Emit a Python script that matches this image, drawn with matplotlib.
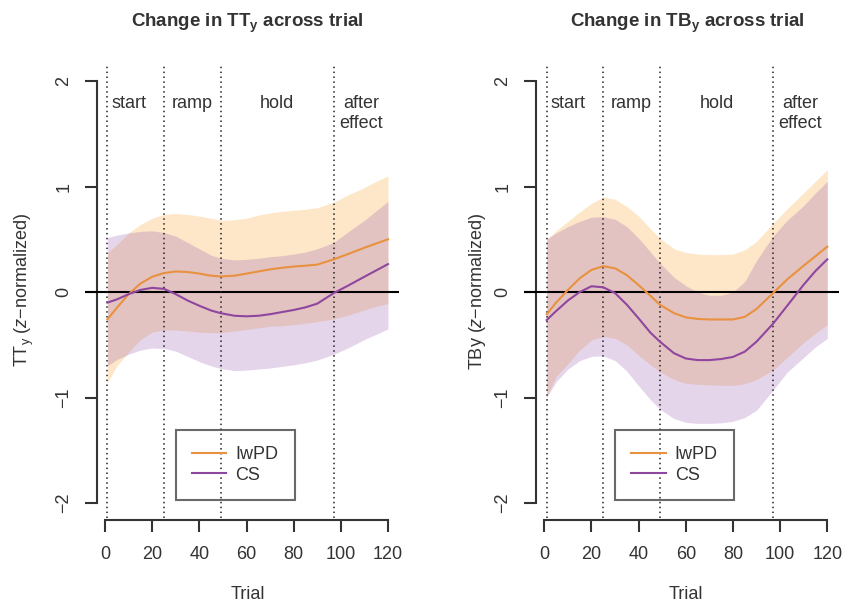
import matplotlib
matplotlib.use('Agg')
import matplotlib.pyplot as plt

plt.rcParams['font.family'] = ['Liberation Sans', 'DejaVu Sans']
plt.rcParams['mathtext.fontset'] = 'custom'
plt.rcParams['mathtext.rm'] = 'Liberation Sans'
plt.rcParams['mathtext.it'] = 'Liberation Sans:italic'
plt.rcParams['mathtext.bf'] = 'Liberation Sans:bold'

trials = [1, 5, 10, 15, 20, 25, 30, 35, 40, 45, 49, 55, 60, 65, 70, 75, 80, 85, 90, 97, 103, 110, 115, 120]

# TT_y panel
tt_lw_mean = [-0.26, -0.15, -0.02, 0.08, 0.145, 0.18, 0.195, 0.19, 0.175, 0.155, 0.148, 0.155, 0.175, 0.195,
              0.215, 0.23, 0.242, 0.25, 0.26, 0.31, 0.36, 0.42, 0.46, 0.50]
tt_lw_lo = [-0.86, -0.70, -0.57, -0.45, -0.38, -0.36, -0.36, -0.37, -0.38, -0.385, -0.385, -0.37, -0.355, -0.34,
            -0.325, -0.32, -0.31, -0.295, -0.28, -0.255, -0.22, -0.17, -0.135, -0.11]
tt_lw_hi = [0.37, 0.45, 0.56, 0.64, 0.70, 0.735, 0.745, 0.735, 0.72, 0.70, 0.68, 0.685, 0.70, 0.73,
            0.75, 0.765, 0.775, 0.785, 0.80, 0.85, 0.92, 0.99, 1.05, 1.10]
tt_cs_mean = [-0.10, -0.07, -0.02, 0.02, 0.04, 0.03, -0.02, -0.08, -0.13, -0.175, -0.20, -0.225, -0.23, -0.225,
              -0.21, -0.19, -0.17, -0.145, -0.11, -0.01, 0.06, 0.145, 0.205, 0.265]
tt_cs_lo = [-0.70, -0.64, -0.59, -0.55, -0.53, -0.535, -0.56, -0.61, -0.66, -0.70, -0.725, -0.745, -0.74, -0.73,
            -0.72, -0.705, -0.69, -0.67, -0.645, -0.59, -0.53, -0.45, -0.40, -0.35]
tt_cs_hi = [0.515, 0.54, 0.56, 0.575, 0.58, 0.565, 0.53, 0.47, 0.41, 0.35, 0.32, 0.305, 0.31, 0.32,
            0.335, 0.345, 0.36, 0.38, 0.41, 0.47, 0.57, 0.68, 0.77, 0.86]

# TB_y panel
tb_lw_mean = [-0.21, -0.10, 0.02, 0.13, 0.21, 0.245, 0.225, 0.16, 0.065, -0.035, -0.12, -0.20, -0.24, -0.255,
              -0.26, -0.26, -0.26, -0.235, -0.16, -0.01, 0.12, 0.25, 0.34, 0.43]
tb_lw_lo = [-0.99, -0.80, -0.68, -0.55, -0.455, -0.42, -0.44, -0.50, -0.60, -0.69, -0.755, -0.83, -0.865, -0.875,
            -0.88, -0.885, -0.885, -0.87, -0.83, -0.74, -0.62, -0.48, -0.39, -0.31]
tb_lw_hi = [0.50, 0.58, 0.67, 0.76, 0.84, 0.90, 0.88, 0.81, 0.72, 0.60, 0.51, 0.41, 0.375, 0.36,
            0.355, 0.355, 0.36, 0.40, 0.48, 0.65, 0.79, 0.94, 1.05, 1.16]
tb_cs_mean = [-0.265, -0.18, -0.08, 0.0, 0.055, 0.045, -0.01, -0.12, -0.25, -0.385, -0.47, -0.58, -0.63, -0.645,
              -0.645, -0.635, -0.615, -0.565, -0.47, -0.30, -0.13, 0.07, 0.20, 0.31]
tb_cs_lo = [-1.00, -0.85, -0.73, -0.65, -0.61, -0.605, -0.65, -0.75, -0.89, -1.02, -1.11, -1.20, -1.235, -1.245,
            -1.245, -1.24, -1.225, -1.19, -1.12, -0.93, -0.76, -0.62, -0.52, -0.44]
tb_cs_hi = [0.50, 0.56, 0.62, 0.67, 0.71, 0.715, 0.69, 0.62, 0.51, 0.38, 0.275, 0.14, 0.06, 0.0,
            -0.03, -0.03, 0.0, 0.10, 0.30, 0.53, 0.68, 0.82, 0.94, 1.05]

phase_breaks = [1, 25, 49, 97]
phase_labels = ['start', 'ramp', 'hold', 'after\neffect']
phase_label_x = [10, 37, 73, 108.5]
x_ticks = [0, 20, 40, 60, 80, 100, 120]
y_ticks = [-2, -1, 0, 1, 2]
group_names = ['IwPD', 'CS']

lw_line = '#E8913F'
cs_line = '#8E469F'
lw_band = '#FDE7C8'
cs_band = (151 / 255, 91 / 255, 175 / 255, 0.25)
dark = '#333333'


def draw_panel(ax, lw_mean, lw_lo, lw_hi, cs_mean, cs_lo, cs_hi):
    ax.fill_between(trials, lw_lo, lw_hi, color=lw_band, lw=0, zorder=1)
    ax.fill_between(trials, cs_lo, cs_hi, color=cs_band, lw=0, zorder=2)
    ax.axhline(0, color='black', lw=1.5, zorder=3)
    for b in phase_breaks:
        ax.axvline(b, color='#222222', lw=1.1, ls=(0, (1, 2.2)), zorder=4)
    ax.plot(trials, lw_mean, color=lw_line, lw=1.5, label=group_names[0], zorder=5)
    ax.plot(trials, cs_mean, color=cs_line, lw=1.5, label=group_names[1], zorder=5)

    # first-line baseline sits at about 1.745
    for lab, x in zip(phase_labels, phase_label_x):
        ax.text(x, 1.87, lab, ha='center', va='top', fontsize=13, color=dark,
                linespacing=1.22)

    ax.set_xlim(-8.5, 124.8)
    ax.set_ylim(-2.14, 2.15)
    ax.spines['top'].set_visible(False)
    ax.spines['right'].set_visible(False)
    ax.spines['left'].set_position(('data', -3.6))
    ax.spines['bottom'].set_position(('data', -2.165))
    ax.spines['left'].set_bounds(-2, 2)
    ax.spines['bottom'].set_bounds(0, 120)
    for s in ('left', 'bottom'):
        ax.spines[s].set_linewidth(1.5)
        ax.spines[s].set_color(dark)
    ax.set_xticks(x_ticks)
    ax.set_yticks(y_ticks)
    ax.tick_params(direction='out', length=8.5, width=1.5, color=dark, labelcolor=dark,
                   labelsize=13)
    ax.tick_params(axis='x', pad=10)
    ax.tick_params(axis='y', pad=9)
    plt.setp(ax.get_yticklabels(), rotation=90, va='center')

    leg = ax.legend(loc='upper left', bbox_to_anchor=(0.289, 0.1947), fontsize=13,
                    fancybox=False, facecolor='none', edgecolor='#444444',
                    borderpad=0.9, labelspacing=0.2, handlelength=1.9,
                    handletextpad=0.5, borderaxespad=0)
    leg.get_frame().set_linewidth(1.5)
    for t in leg.get_texts():
        t.set_color(dark)


fig = plt.figure(figsize=(8.44, 6.04), dpi=100)
ax1 = fig.add_axes([0.1007, 0.1427, 0.3724, 0.7493])
ax2 = fig.add_axes([0.6212, 0.1427, 0.3724, 0.7493])

draw_panel(ax1, tt_lw_mean, tt_lw_lo, tt_lw_hi, tt_cs_mean, tt_cs_lo, tt_cs_hi)
draw_panel(ax2, tb_lw_mean, tb_lw_lo, tb_lw_hi, tb_cs_mean, tb_cs_lo, tb_cs_hi)

fig.text(247.7 / 844, 1 - 26.7 / 604, r'Change in TT$_\mathbf{y}$ across trial', ha='center',
         va='baseline', fontsize=13.5, fontweight='bold', color=dark)
fig.text(687 / 844, 1 - 26.7 / 604, r'Change in TB$_\mathbf{y}$ across trial', ha='center',
         va='baseline', fontsize=13.5, fontweight='bold', color=dark)

fig.text(24 / 844, 1 - 290 / 604, r'TT$_\mathrm{y}$ ($\mathit{z}$−normalized)', rotation=90,
         ha='center', va='center', fontsize=13, color=dark)
fig.text(478 / 844, 1 - 291 / 604, r'TBy ($\mathit{z}$−normalized)', rotation=90,
         ha='center', va='center', fontsize=13, color=dark)

fig.text(247.5 / 844, 1 - 586 / 604, 'Trial', ha='center', va='top', fontsize=13, color=dark)
fig.text(686 / 844, 1 - 586 / 604, 'Trial', ha='center', va='top', fontsize=13, color=dark)

plt.savefig('out.png', dpi=100)
plt.close()
